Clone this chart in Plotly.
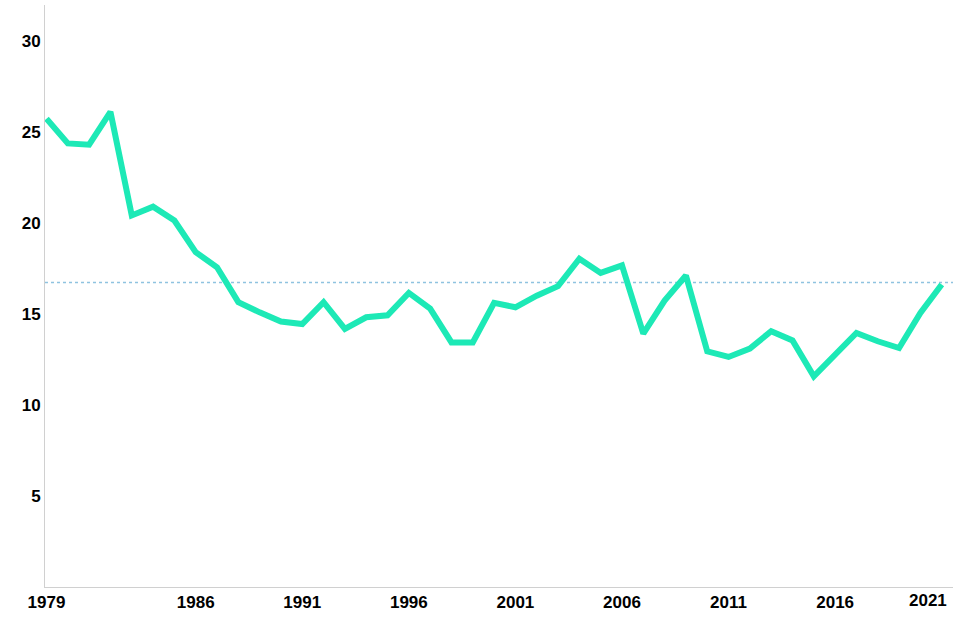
import plotly.graph_objects as go

years = list(range(1979, 2022))
values = [25.75, 24.39, 24.32, 26.12, 20.43, 20.91, 20.15, 18.41, 17.58, 15.66,
          15.10, 14.60, 14.46, 15.66, 14.19, 14.83, 14.94, 16.17, 15.31, 13.45,
          13.45, 15.62, 15.38, 16.02, 16.54, 18.05, 17.27, 17.68, 13.93, 15.75,
          17.13, 12.96, 12.65, 13.11, 14.06, 13.56, 11.58, 12.81, 13.97, 13.51,
          13.14, 15.07, 16.63]
reference_value = 16.74
x_tick_vals = [1979, 1986, 1991, 1996, 2001, 2006, 2011, 2016]
x_tick_text = [str(v) for v in x_tick_vals]
last_label = "2021"
y_tick_vals = [5, 10, 15, 20, 25, 30]

FONT = "Liberation Sans, Arial, sans-serif"

fig = go.Figure()
fig.add_trace(go.Scatter(
    x=years, y=values, mode="lines",
    line=dict(color="#1de9b6", width=6),
    hoverinfo="x+y", showlegend=False,
))
fig.add_shape(type="line", xref="paper", yref="y", x0=0, x1=1,
              y0=reference_value, y1=reference_value,
              line=dict(color="#8fc3e0", width=1.5, dash="dot"), layer="below")
fig.add_annotation(x=2021, y=0, xref="x", yref="paper", text="<b>" + last_label + "</b>",
                   showarrow=False, xanchor="right", yanchor="top",
                   xshift=7, yshift=-2,
                   font=dict(family=FONT, size=17, color="#000"))

fig.update_layout(
    width=960, height=640,
    margin=dict(l=45, r=7, t=5, b=53),
    plot_bgcolor="white", paper_bgcolor="white",
    font=dict(family=FONT, size=17, color="#000"),
    xaxis=dict(range=[1978.93, 2021.53], tickvals=x_tick_vals, ticktext=x_tick_text,
               showgrid=False, zeroline=False, showline=True, linecolor="#d0d0d0",
               linewidth=1, ticks="", automargin=False,
               tickfont=dict(size=17, color="#000", weight="bold")),
    yaxis=dict(range=[0, 32], tickvals=y_tick_vals, showgrid=False, zeroline=False,
               showline=True, linecolor="#d0d0d0", linewidth=1, ticks="",
               automargin=False,
               tickfont=dict(size=17, color="#000", weight="bold")),
)
fig.write_html("out.html", config={"displayModeBar": False},
               post_script="document.body.style.margin='0';")
